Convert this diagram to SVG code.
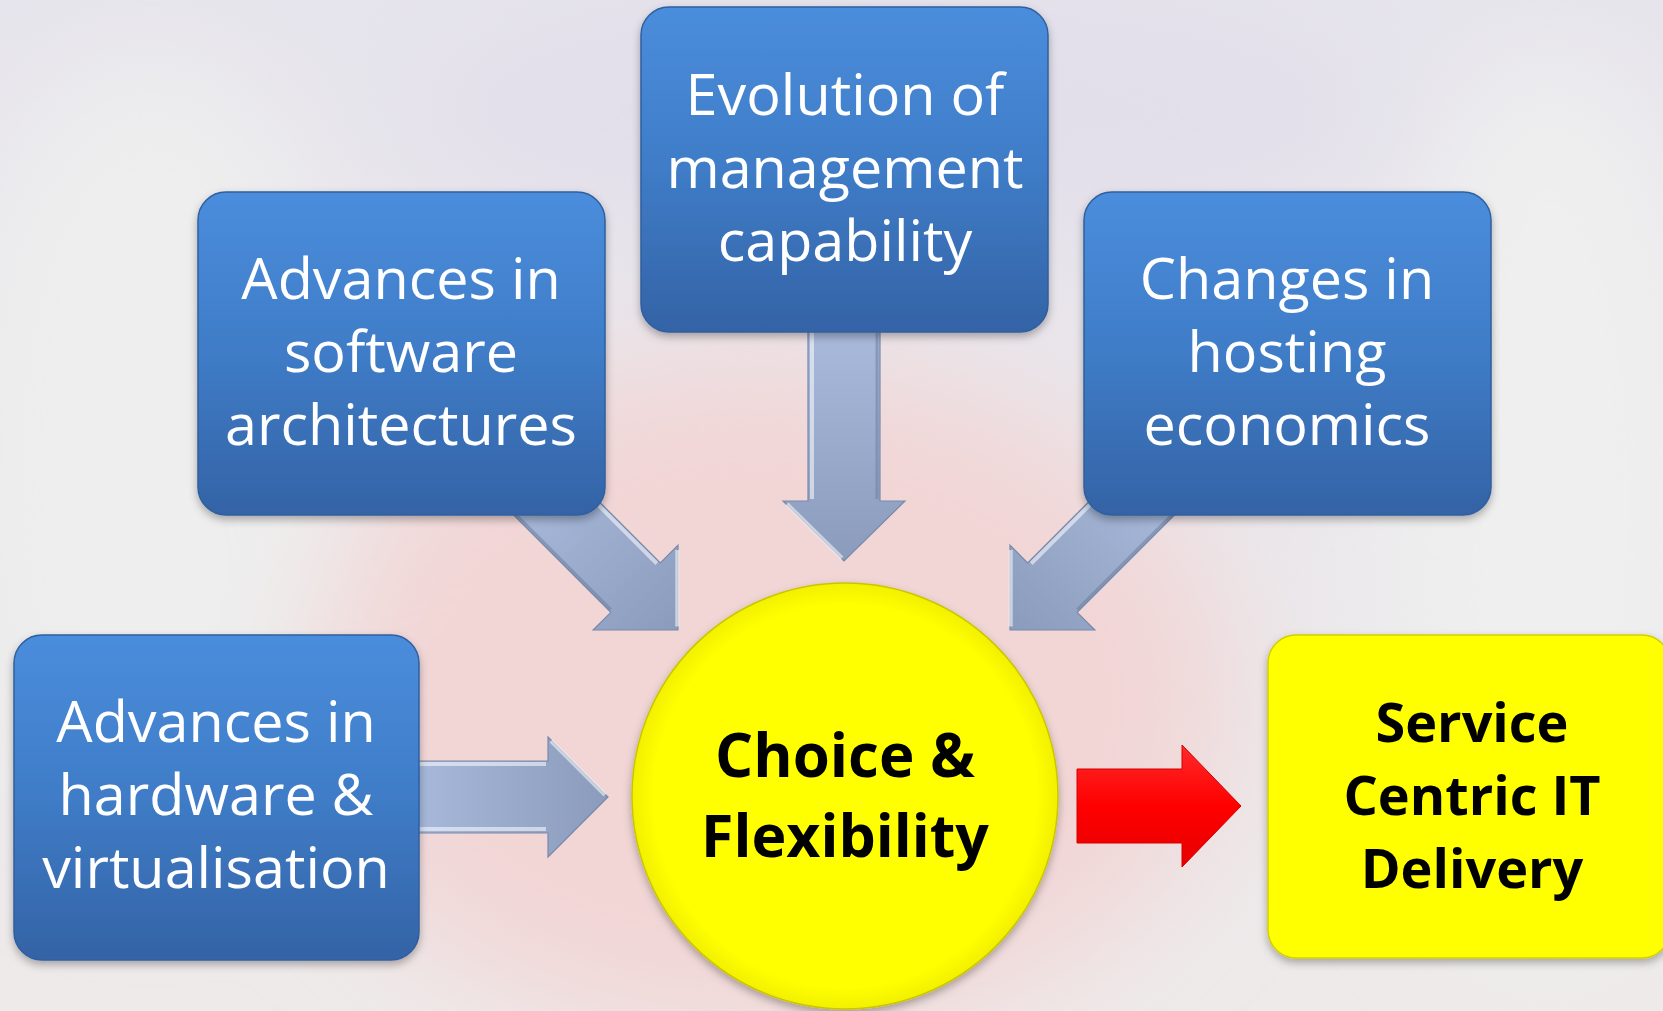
<svg xmlns="http://www.w3.org/2000/svg" width="1663" height="1011" viewBox="0 0 1663 1011">
<defs>
<style>
.btxt{font-family:"Open Sans","Noto Sans","Liberation Sans",sans-serif;font-size:57.5px;fill:#ffffff;text-anchor:middle}
.ytxt{font-family:"Open Sans","Noto Sans","Liberation Sans",sans-serif;font-weight:bold;fill:#000000;text-anchor:middle}
.box{fill:url(#blueGrad);stroke:#2f5f9e;stroke-width:1.5}
.arrow{fill:url(#arrowGrad);stroke:#7889ab;stroke-width:1.2}
.hl{stroke:#ffffff;stroke-opacity:0.55;stroke-width:4;fill:none}
.sh{stroke:#6a7b9c;stroke-opacity:0.5;stroke-width:3;fill:none}
</style>
<linearGradient id="bgGrad" x1="0" y1="0" x2="0" y2="1">
<stop offset="0" stop-color="#e6e4ec"/>
<stop offset="1" stop-color="#eeeaea"/>
</linearGradient>
<linearGradient id="blueGrad" x1="0" y1="0" x2="0" y2="1">
<stop offset="0" stop-color="#4a8ddc"/>
<stop offset="0.5" stop-color="#3f7cc7"/>
<stop offset="1" stop-color="#3463a6"/>
</linearGradient>
<linearGradient id="arrowGrad" x1="0" y1="0" x2="1" y2="0">
<stop offset="0" stop-color="#aabbdd"/>
<stop offset="1" stop-color="#8a9bbb"/>
</linearGradient>
<linearGradient id="redGrad" x1="0" y1="0" x2="0" y2="1">
<stop offset="0" stop-color="#ff2a2a"/>
<stop offset="0.5" stop-color="#ff0000"/>
<stop offset="1" stop-color="#e60000"/>
</linearGradient>
<radialGradient id="circGrad" cx="0.5" cy="0.5" r="0.5">
<stop offset="0.9" stop-color="#ffff00"/>
<stop offset="1" stop-color="#f2f000"/>
</radialGradient>
<filter id="blur" x="-50%" y="-50%" width="200%" height="200%">
<feGaussianBlur stdDeviation="60"/>
</filter>
<filter id="shadow" x="-10%" y="-10%" width="120%" height="130%">
<feDropShadow dx="0" dy="4" stdDeviation="4" flood-color="#000000" flood-opacity="0.3"/>
</filter>
</defs>

<!-- background -->
<rect x="0" y="0" width="1663" height="1011" fill="url(#bgGrad)"/>
<g filter="url(#blur)">
<ellipse cx="760" cy="700" rx="470" ry="340" fill="#f2d6d6"/>
<ellipse cx="150" cy="450" rx="200" ry="400" fill="#eeeeee"/>
<ellipse cx="1550" cy="500" rx="170" ry="450" fill="#efefef"/>
<ellipse cx="900" cy="110" rx="500" ry="130" fill="#e2dfea"/>
</g>

<!-- connectors -->
<g id="connectors">
<g id="arrow-sw" transform="translate(678,630) rotate(45)">
<polygon class="arrow" points="-220,-35 -60,-35 -60,-60 0,0 -60,60 -60,35 -220,35"/>
<path class="hl" d="M-220,-32 L-62,-32 M-57,-56 L-3,-2"/>
<path class="sh" d="M-220,33 L-62,33"/>
</g>
<g id="arrow-se" transform="translate(1010,630) rotate(135)">
<polygon class="arrow" points="-220,-35 -60,-35 -60,-60 0,0 -60,60 -60,35 -220,35"/>
<path class="sh" d="M-220,-33 L-62,-33"/>
<path class="hl" d="M-220,32 L-62,32 M-57,56 L-3,2"/>
</g>
<g id="arrow-down" transform="translate(844,561) rotate(90)">
<polygon class="arrow" points="-240,-36 -60,-36 -60,-61 0,0 -60,61 -60,36 -240,36"/>
<path class="sh" d="M-240,-33 L-62,-33"/>
<path class="hl" d="M-240,32 L-62,32 M-57,57 L-3,2"/>
</g>
<g id="arrow-right" transform="translate(608,797)">
<polygon class="arrow" points="-210,-36 -60,-36 -60,-60 0,0 -60,60 -60,36 -210,36"/>
<path class="hl" d="M-210,-33 L-62,-33 M-57,-56 L-3,-2 M-210,32 L-62,32"/>
</g>
<polygon id="arrow-red" fill="url(#redGrad)" stroke="#d40000" stroke-width="1" transform="translate(1241,806)" points="-164,-37 -59,-37 -59,-61 0,0 -59,61 -59,37 -164,37"/>
</g>

<!-- nodes -->
<g id="node-hardware">
<rect class="box" x="14" y="635" width="405" height="325" rx="28" filter="url(#shadow)"/>
<text class="btxt" x="216" y="742">Advances in</text>
<text class="btxt" x="216" y="815">hardware &amp;</text>
<text class="btxt" x="216" y="888">virtualisation</text>
</g>

<g id="node-software">
<rect class="box" x="198" y="192" width="407" height="323" rx="28" filter="url(#shadow)"/>
<text class="btxt" x="401" y="299">Advances in</text>
<text class="btxt" x="401" y="372">software</text>
<text class="btxt" x="401" y="445">architectures</text>
</g>

<g id="node-management">
<rect class="box" x="641" y="7" width="407" height="325" rx="28" filter="url(#shadow)"/>
<text class="btxt" x="845" y="115">Evolution of</text>
<text class="btxt" x="845" y="188">management</text>
<text class="btxt" x="845" y="261">capability</text>
</g>

<g id="node-hosting">
<rect class="box" x="1084" y="192" width="407" height="323" rx="28" filter="url(#shadow)"/>
<text class="btxt" x="1287" y="299">Changes in</text>
<text class="btxt" x="1287" y="372">hosting</text>
<text class="btxt" x="1287" y="445">economics</text>
</g>

<g id="node-choice">
<circle cx="845" cy="796" r="213" fill="url(#circGrad)" stroke="#c9c600" stroke-width="1.5" filter="url(#shadow)"/>
<text class="ytxt" x="845" y="777" font-size="60">Choice &amp;</text>
<text class="ytxt" x="845" y="857" font-size="59">Flexibility</text>
</g>

<g id="node-service">
<rect x="1268" y="635" width="402" height="323" rx="28" fill="#ffff00" stroke="#d2cf00" stroke-width="1.5" filter="url(#shadow)"/>
<text class="ytxt" x="1472" y="742" font-size="54">Service</text>
<text class="ytxt" x="1472" y="815" font-size="54">Centric IT</text>
<text class="ytxt" x="1472" y="888" font-size="54">Delivery</text>
</g>
</svg>
